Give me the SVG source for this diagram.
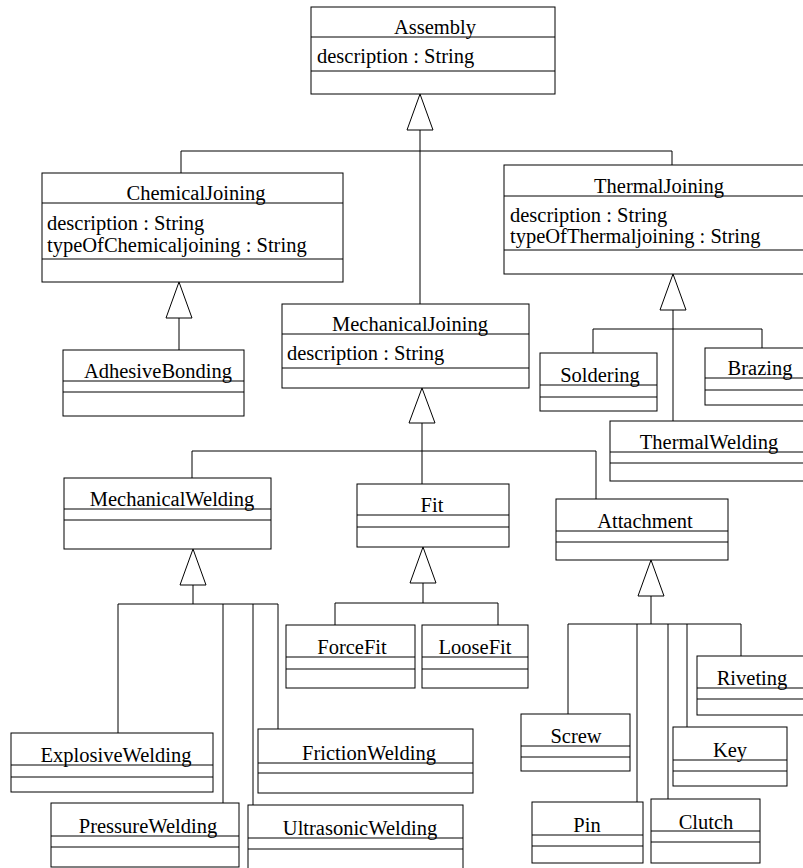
<svg xmlns="http://www.w3.org/2000/svg" width="803" height="868" viewBox="0 0 803 868">
<style>
.box{fill:#fff;stroke:#000;stroke-width:1}
.div{stroke:#000;stroke-width:1}
.t{font-family:"Liberation Serif","Times New Roman",serif;font-size:20.5px;fill:#000}
.n{text-anchor:middle}
.c{fill:none;stroke:#000;stroke-width:1}
.tri{fill:#fff;stroke:#000;stroke-width:1}
</style>
<rect width="803" height="868" fill="#fff"/>
<g id="connectors">
<path class="c" d="M420,130V151M181,151H672M181,151V173M672,151V165M420,151V304"/>
<polygon class="tri" points="420,94 407,130 433,130"/>
<path class="c" d="M179,318V350"/>
<polygon class="tri" points="179,282 166,318 192,318"/>
<path class="c" d="M673,310V421M593,329H762M593,329V353M762,329V348"/>
<polygon class="tri" points="673,274 660,310 686,310"/>
<path class="c" d="M422,423V484M192,451H596M192,451V478M596,451V499"/>
<polygon class="tri" points="422,388 409,423 435,423"/>
<path class="c" d="M193,585V604M118,604H278M118,604V733M223,604V803M253,604V805M278,604V729"/>
<polygon class="tri" points="193,549 180,585 206,585"/>
<path class="c" d="M423,583V603M335,603H498M335,603V625M498,603V625"/>
<polygon class="tri" points="423,547 410,583 436,583"/>
<path class="c" d="M651,596V624M568,624H741M568,624V714M637,624V802M668,624V799M687,624V727M741,624V656"/>
<polygon class="tri" points="651,560 638,596 664,596"/>
</g>
<g id="Assembly">
<rect class="box" x="311" y="7" width="244" height="87"/>
<path class="div" d="M311,37H555M311,71H555"/>
<text class="t n" x="435" y="34">Assembly</text>
<text class="t" x="317" y="63">description : String</text>
</g>
<g id="ChemicalJoining">
<rect class="box" x="42" y="173" width="301" height="109"/>
<path class="div" d="M42,203H343M42,259H343"/>
<text class="t n" x="196" y="200">ChemicalJoining</text>
<text class="t" x="47" y="230">description : String</text>
<text class="t" x="47" y="252">typeOfChemicaljoining : String</text>
</g>
<g id="ThermalJoining">
<rect class="box" x="504" y="165" width="304" height="109"/>
<path class="div" d="M504,196H808M504,250H808"/>
<text class="t n" x="659" y="193">ThermalJoining</text>
<text class="t" x="510" y="222">description : String</text>
<text class="t" x="510" y="243">typeOfThermaljoining : String</text>
</g>
<g id="MechanicalJoining">
<rect class="box" x="282" y="304" width="247" height="84"/>
<path class="div" d="M282,334H529M282,368H529"/>
<text class="t n" x="410" y="331">MechanicalJoining</text>
<text class="t" x="287" y="360">description : String</text>
</g>
<g id="AdhesiveBonding">
<rect class="box" x="63" y="350" width="181" height="66"/>
<path class="div" d="M63,381H244M63,392H244"/>
<text class="t n" x="158" y="378">AdhesiveBonding</text>
</g>
<g id="Soldering">
<rect class="box" x="540" y="353" width="117" height="58"/>
<path class="div" d="M540,385H657M540,397H657"/>
<text class="t n" x="600" y="382">Soldering</text>
</g>
<g id="Brazing">
<rect class="box" x="705" y="348" width="103" height="57"/>
<path class="div" d="M705,378H808M705,390H808"/>
<text class="t n" x="760" y="375">Brazing</text>
</g>
<g id="ThermalWelding">
<rect class="box" x="610" y="421" width="198" height="60"/>
<path class="div" d="M610,452H808M610,463H808"/>
<text class="t n" x="709" y="449">ThermalWelding</text>
</g>
<g id="MechanicalWelding">
<rect class="box" x="64" y="478" width="207" height="71"/>
<path class="div" d="M64,509H271M64,520H271"/>
<text class="t n" x="172" y="506">MechanicalWelding</text>
</g>
<g id="Fit">
<rect class="box" x="357" y="484" width="152" height="63"/>
<path class="div" d="M357,515H509M357,527H509"/>
<text class="t n" x="432" y="512">Fit</text>
</g>
<g id="Attachment">
<rect class="box" x="556" y="499" width="172" height="61"/>
<path class="div" d="M556,531H728M556,542H728"/>
<text class="t n" x="645" y="528">Attachment</text>
</g>
<g id="ForceFit">
<rect class="box" x="286" y="625" width="129" height="63"/>
<path class="div" d="M286,657H415M286,669H415"/>
<text class="t n" x="352" y="654">ForceFit</text>
</g>
<g id="LooseFit">
<rect class="box" x="422" y="625" width="106" height="63"/>
<path class="div" d="M422,657H528M422,669H528"/>
<text class="t n" x="475" y="654">LooseFit</text>
</g>
<g id="Riveting">
<rect class="box" x="697" y="656" width="111" height="59"/>
<path class="div" d="M697,688H808M697,699H808"/>
<text class="t n" x="752" y="685">Riveting</text>
</g>
<g id="ExplosiveWelding">
<rect class="box" x="11" y="733" width="202" height="59"/>
<path class="div" d="M11,765H213M11,777H213"/>
<text class="t n" x="116" y="762">ExplosiveWelding</text>
</g>
<g id="FrictionWelding">
<rect class="box" x="258" y="729" width="215" height="64"/>
<path class="div" d="M258,763H473M258,773H473"/>
<text class="t n" x="369" y="760">FrictionWelding</text>
</g>
<g id="Screw">
<rect class="box" x="521" y="714" width="109" height="57"/>
<path class="div" d="M521,746H630M521,757H630"/>
<text class="t n" x="576" y="743">Screw</text>
</g>
<g id="Key">
<rect class="box" x="673" y="727" width="114" height="59"/>
<path class="div" d="M673,760H787M673,771H787"/>
<text class="t n" x="730" y="757">Key</text>
</g>
<g id="PressureWelding">
<rect class="box" x="51" y="803" width="188" height="64"/>
<path class="div" d="M51,836H239M51,847H239"/>
<text class="t n" x="148" y="833">PressureWelding</text>
</g>
<g id="UltrasonicWelding">
<rect class="box" x="248" y="805" width="215" height="66"/>
<path class="div" d="M248,838H463M248,849H463"/>
<text class="t n" x="360" y="835">UltrasonicWelding</text>
</g>
<g id="Pin">
<rect class="box" x="532" y="802" width="111" height="61"/>
<path class="div" d="M532,835H643M532,846H643"/>
<text class="t n" x="587" y="832">Pin</text>
</g>
<g id="Clutch">
<rect class="box" x="651" y="799" width="109" height="64"/>
<path class="div" d="M651,831H760M651,842H760"/>
<text class="t n" x="706" y="829">Clutch</text>
</g>
</svg>
